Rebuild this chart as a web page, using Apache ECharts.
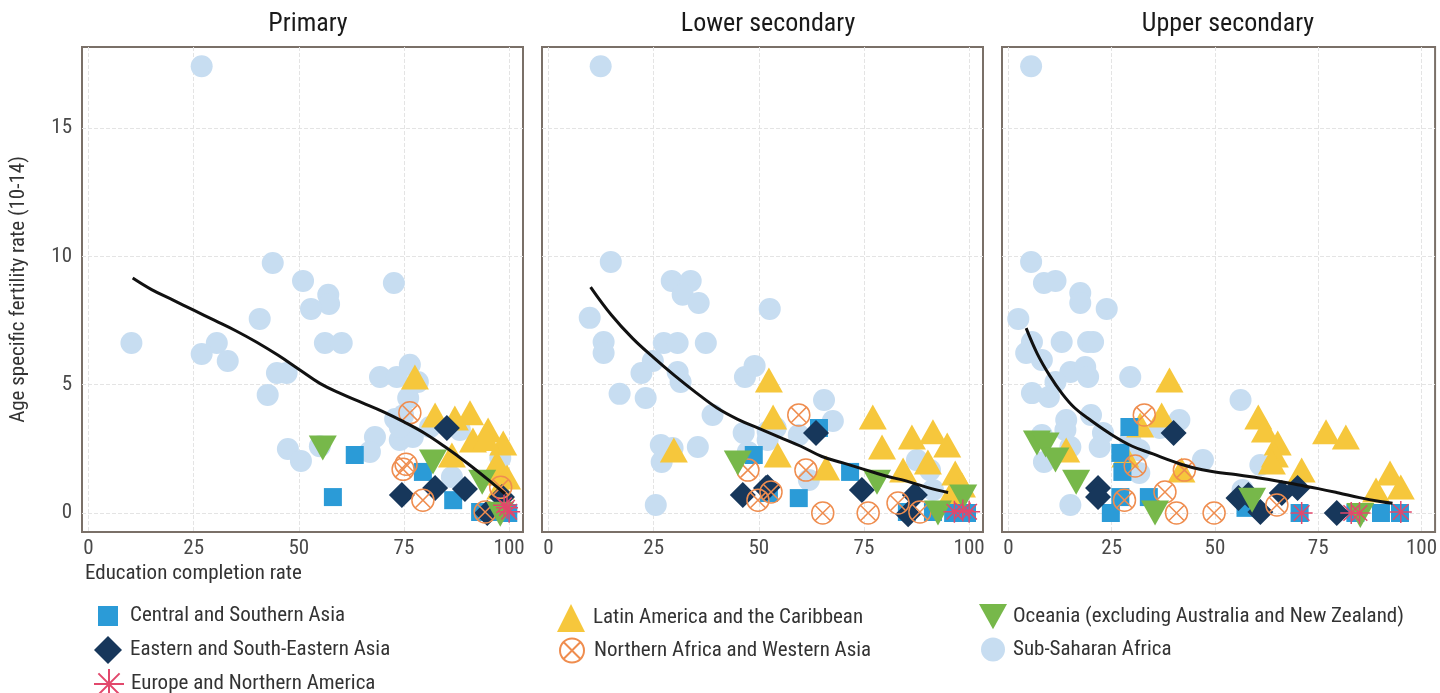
<!DOCTYPE html>
<html>
<head>
<meta charset="utf-8">
<title>Age specific fertility rate vs education completion</title>
<script src="https://cdn.jsdelivr.net/npm/echarts@6.0.0/dist/echarts.min.js"></script>
<style>
  html, body { margin: 0; padding: 0; background: #fff; }
  #chart { width: 1440px; height: 693px; }
</style>
</head>
<body>
<div id="chart"></div>
<script>
// panel titles and tick labels
const panelTitles = ['Primary', 'Lower secondary', 'Upper secondary'];
const xTicks = [0, 25, 50, 75, 100];
const yTicks = [0, 5, 10, 15];

const regions = [
  'Central and Southern Asia',
  'Eastern and South-Eastern Asia',
  'Europe and Northern America',
  'Latin America and the Caribbean',
  'Northern Africa and Western Asia',
  'Oceania (excluding Australia and New Zealand)',
  'Sub-Saharan Africa'
];

// ---- Primary: [completion rate, fertility rate]
const primarySSA = [[43.8,9.74],[51,9.04],[57,8.5],[57.2,8.14],[52.9,7.95],[40.7,7.56],[10.2,6.62],[30.5,6.62],[26.9,6.19],[33.1,5.92],[44.8,5.45],[47.1,5.45],[42.6,4.6],[47.4,2.49],[50.5,2.03],[56.2,6.62],[60.2,6.62],[55,2.6],[72.6,8.96],[69.3,5.3],[73.3,5.3],[76.4,5.77],[78.3,5.1],[76,4.48],[72.9,3.66],[74,2.84],[77.1,2.96],[68.1,2.96],[66.9,2.38],[81.2,3.35],[88.3,3.23],[86.4,1.4],[97.9,2.14],[74,3.35],[74.8,3.8],[26.9,17.4]];
const primaryLAC = [[77.6,5.3],[82.4,3.82],[87.1,3.7],[90.7,3.9],[95,3.23],[98.6,2.73],[91.4,2.84],[86.4,2.26],[97.1,1.95],[99.5,1.4],[97.9,1.01],[96,1.56],[94.5,2.9]];
const primaryCSA = [[63.3,2.26],[58.1,0.62],[79.5,1.6],[86.7,0.5],[93.1,0.04],[99.8,0],[97.9,0.04]];
const primaryESEA = [[74.5,0.7],[82.4,0.97],[89.5,0.93],[98.3,0.62],[85.2,3.31],[94.8,0]];
const primaryNAWA = [[76.4,3.9],[75.5,1.9],[74.8,1.7],[79.5,0.5],[94.3,0.04],[98,1.0]];
const primaryOCE = [[55.7,2.53],[81.9,1.99],[93.6,1.2],[97.9,-0.05]];
const primaryENA = [[99.5,0.2],[100,0.05],[98.8,0.3]];
const primaryFit = [[10.5,9.15],[15,8.7],[20,8.3],[25,7.9],[30,7.5],[35,7.1],[40,6.65],[45,6.15],[50,5.6],[55,5.05],[60,4.65],[65,4.3],[70,3.95],[75,3.55],[80,3.1],[85,2.55],[90,1.95],[95,1.3],[99,0.75]];

// ---- Lower secondary
const lowerSSA = [[12.4,17.4],[14.8,9.78],[29.3,9.04],[33.8,9.04],[31.9,8.5],[35.7,8.18],[52.6,7.95],[9.8,7.6],[13.1,6.66],[13.1,6.23],[27.4,6.62],[30.7,6.62],[37.4,6.62],[24.8,5.92],[22.1,5.45],[30.7,5.49],[31.4,5.1],[16.9,4.64],[23.1,4.48],[39,3.82],[46.7,5.3],[49,5.73],[65.5,4.4],[67.6,3.58],[46.4,3.12],[52.1,3.16],[54,3.31],[52.1,2.84],[59.5,3.04],[47.4,2.38],[26.7,2.65],[29.5,2.53],[26.9,1.99],[35.5,2.57],[25.5,0.31],[61.9,1.29],[87.6,2.06],[90.7,1.67],[91.4,0.9]];
const lowerLAC = [[52.4,5.18],[53.4,3.74],[54.5,2.26],[29.8,2.45],[66,1.75],[77.1,3.74],[79.3,2.57],[86.4,2.96],[91.4,3.16],[94.8,2.65],[84.3,1.67],[90.2,1.99],[96.7,1.56],[98.3,1.09],[95.5,0.7]];
const lowerCSA = [[48.8,2.26],[52.4,0.78],[59.5,0.58],[64.3,3.31],[71.7,1.6],[85.2,0.04],[91.4,0.04],[99.5,0],[96.2,0]];
const lowerESEA = [[46.2,0.7],[51.7,0.97],[63.6,3.12],[52.1,1.0],[74.5,0.9],[87.1,0.7],[85.5,-0.05]];
const lowerNAWA = [[59.5,3.82],[61.2,1.67],[47.4,1.67],[49.8,0.5],[52.9,0.82],[65.2,0],[76,0],[83.1,0.39],[88.3,0.04]];
const lowerOCE = [[45,1.95],[78.1,1.2],[92.6,0],[98.6,0.62]];
const lowerENA = [[96.5,0.05],[98.5,0.1],[100,0.05]];
const lowerFit = [[10,8.8],[15,7.7],[20,6.8],[25,6.05],[30,5.35],[35,4.7],[40,4.1],[45,3.65],[50,3.3],[55,2.95],[60,2.6],[65,2.2],[70,1.95],[75,1.7],[80,1.45],[85,1.25],[90,1.0],[95,0.8]];

// ---- Upper secondary
const upperSSA = [[5.5,17.4],[5.5,9.78],[8.6,8.96],[11.4,9.04],[17.4,8.57],[17.4,8.18],[23.8,7.95],[2.4,7.56],[5.7,6.66],[4.3,6.23],[8.1,5.96],[12.9,6.66],[19.3,6.66],[20.5,6.66],[15,5.49],[18.6,5.69],[19.3,5.3],[11.4,5.1],[5.7,4.67],[9.8,4.52],[29.5,5.3],[14,3.62],[13.8,3.23],[20,3.82],[22.9,3.12],[22.1,2.57],[8.1,3.04],[8.6,1.99],[15,2.57],[29.5,2.84],[31.7,2.45],[31.7,1.56],[36.7,3.31],[41.4,3.62],[47.1,2.06],[15,0.31],[56.2,4.4],[61,1.87],[56.7,0.9]];
const upperLAC = [[39,5.18],[37.1,3.82],[31.9,3.43],[28.3,2.26],[14,2.45],[41.9,1.67],[60.5,3.74],[62.1,3.23],[65.2,2.73],[64.5,2.26],[63.8,1.99],[71,1.67],[76.9,3.16],[81.7,2.96],[92.4,1.56],[95,1.01],[89,0.9]];
const upperCSA = [[29.3,3.35],[27.1,2.34],[27.6,1.6],[27.1,0.62],[24.8,0],[34,0.62],[70.5,0],[84,0],[90.2,0],[94.8,0],[57.4,0.2]];
const upperESEA = [[40,3.12],[21.7,0.97],[21.7,0.62],[55.7,0.58],[58.1,0.7],[61,0.04],[66.2,0.78],[70,0.97],[79.5,0]];
const upperNAWA = [[32.9,3.82],[30.7,1.83],[37.9,0.82],[28.1,0.5],[40.7,0],[49.8,0],[42.6,1.67],[65,0.31]];
const upperOCE = [[6.9,2.73],[9,2.65],[11.4,2.06],[16.4,1.2],[35.5,0],[59,0.5],[85.2,-0.1]];
const upperENA = [[71,0],[83,0],[85,0],[95,0.04]];
const upperFit = [[4.3,7.2],[7,6.2],[10,5.35],[13,4.65],[16,4.1],[20,3.6],[25,3.05],[30,2.6],[35,2.3],[40,2.0],[45,1.75],[50,1.6],[55,1.5],[60,1.38],[65,1.25],[70,1.1],[75,0.95],[80,0.78],[85,0.6],[90,0.45],[93,0.38]];

const panels = [
  { fit: primaryFit, pts: [primaryCSA, primaryESEA, primaryENA, primaryLAC, primaryNAWA, primaryOCE, primarySSA] },
  { fit: lowerFit,   pts: [lowerCSA, lowerESEA, lowerENA, lowerLAC, lowerNAWA, lowerOCE, lowerSSA] },
  { fit: upperFit,   pts: [upperCSA, upperESEA, upperENA, upperLAC, upperNAWA, upperOCE, upperSSA] }
];

const FONT = "'Roboto Condensed', 'Liberation Sans Narrow', 'DejaVu Sans Condensed', Roboto, sans-serif";
const ASTERISK = 'path://M10,0L10,20M0,10L20,10M2.93,2.93L17.07,17.07M17.07,2.93L2.93,17.07';
const CIRCLE_X = 'path://M0,10A10,10,0,1,0,20,10A10,10,0,1,0,0,10ZM2.93,2.93L17.07,17.07M17.07,2.93L2.93,17.07';
const INV_TRI = 'path://M0,0L20,0L10,18Z';

const regionStyle = [
  { symbol: 'rect', symbolSize: 18, itemStyle: { color: '#2b9bd7', opacity: 1 } },
  { symbol: 'diamond', symbolSize: 26, itemStyle: { color: '#17375b', opacity: 1 } },
  { symbol: ASTERISK, symbolSize: 22, itemStyle: { color: 'rgba(0,0,0,0)', borderColor: '#e2486c', borderWidth: 1.5, opacity: 1 } },
  { symbol: 'triangle', symbolSize: [28, 25], itemStyle: { color: '#f6c73c', opacity: 1 } },
  { symbol: CIRCLE_X, symbolSize: 22, itemStyle: { color: 'rgba(0,0,0,0)', borderColor: '#ef8d4f', borderWidth: 1.5, opacity: 1 } },
  { symbol: INV_TRI, symbolSize: [28, 25], itemStyle: { color: '#77b84a', opacity: 1 } },
  { symbol: 'circle', symbolSize: 22, itemStyle: { color: '#c7ddf1', opacity: 1 } }
];
// drawing order of the regions (sub-Saharan first, so others sit on top)
const drawOrder = [6, 3, 0, 1, 4, 5, 2];

const grids = [], xAxes = [], yAxes = [], titles = [], series = [];
panels.forEach((p, i) => {
  const left = 82 + 460 * i;
  grids.push({ left: left, top: 47, width: 441, height: 485, show: true,
    borderColor: '#7a7068', borderWidth: 2, backgroundColor: 'transparent' });
  titles.push({ text: panelTitles[i], left: left + 221, top: 6, textAlign: 'center',
    textStyle: { fontFamily: FONT, fontSize: 26, fontWeight: 'normal', color: '#1a1a1a' } });
  xAxes.push({
    type: 'value', gridIndex: i, min: -1.55, max: 103.3,
    axisLine: { show: false },
    axisTick: { show: false, customValues: xTicks },
    axisLabel: { customValues: xTicks, margin: 6, fontFamily: FONT, fontSize: 21, color: '#4a4a4a' },
    splitLine: { show: true, lineStyle: { color: '#e4e4e4', type: 'dashed', width: 1 } }
  });
  yAxes.push({
    type: 'value', gridIndex: i, min: -0.74, max: 18.15,
    name: i === 0 ? 'Age specific fertility rate (10-14)' : '',
    nameLocation: 'middle', nameGap: 53,
    nameTextStyle: { fontFamily: FONT, fontSize: 21, color: '#333' },
    axisLine: { show: false },
    axisTick: { show: false, customValues: yTicks },
    axisLabel: { show: i === 0, customValues: yTicks, margin: 10, fontFamily: FONT, fontSize: 21, color: '#4a4a4a' },
    splitLine: { show: true, lineStyle: { color: '#e4e4e4', type: 'dashed', width: 1 } }
  });
  series.push({
    name: 'Fit', type: 'line', xAxisIndex: i, yAxisIndex: i, data: p.fit,
    smooth: 0.4, showSymbol: false, silent: true,
    lineStyle: { color: '#111', width: 3 }
  });
  drawOrder.forEach(r => {
    series.push(Object.assign({
      name: regions[r], type: 'scatter', xAxisIndex: i, yAxisIndex: i,
      data: p.pts[r], silent: true
    }, regionStyle[r]));
  });
});

// one legend box per entry, laid out in three columns like the original
const legendCenterX = [103, 103, 103, 566, 566, 988, 988];
const legendTextX = [131, 131, 131, 594, 594, 1014, 1014];
const legendCenterY = [613, 645, 678, 613, 645, 613, 645];
const legendIcon = [20, 28, 30, 28, 24, 28, 24];
const legends = regions.map((r, k) => {
  const s = legendIcon[k];
  const left = legendCenterX[k] - s / 2;
  return {
    left: left, top: legendCenterY[k] - Math.max(s, 25) / 2, data: [r],
    itemWidth: s, itemHeight: s, selectedMode: false,
    textStyle: { fontFamily: FONT, fontSize: 21, color: '#333',
      padding: [0, 0, 0, Math.max(0, legendTextX[k] - (left + s + 5) - 6)] }
  };
});

const chart = echarts.init(document.getElementById('chart'));
chart.setOption({
  animation: false,
  backgroundColor: '#fff',
  title: titles,
  grid: grids,
  xAxis: xAxes,
  yAxis: yAxes,
  legend: legends,
  graphic: [{
    type: 'text', left: 85, top: 563,
    style: { text: 'Education completion rate', font: '21px ' + FONT, fill: '#333' }
  }],
  series: series
});
</script>
</body>
</html>
